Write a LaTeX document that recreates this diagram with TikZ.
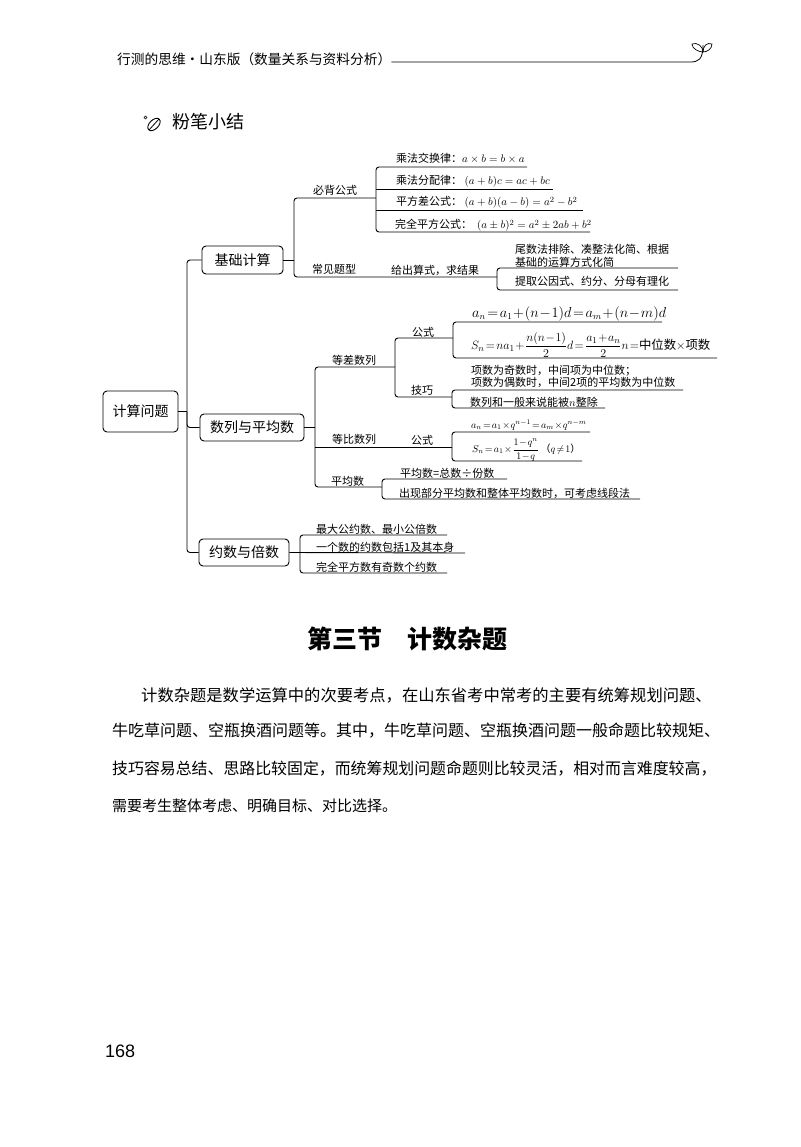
\documentclass[tikz,border=0pt]{standalone}
\usepackage{amsmath,amssymb}
\usepackage{fontspec}
\setmainfont{Noto Sans CJK SC}
\newfontfamily\numfont{Liberation Sans}
\usepackage{tikz}
\usetikzlibrary{positioning, calc}
\newcommand{\sz}[1]{\fontsize{#1}{#1}\selectfont}
\newcommand{\tightm}{\thickmuskip=2mu \medmuskip=1mu}

\begin{document}
\begin{tikzpicture}[
    x=1pt, y=-1pt,
    topic/.style={draw=black, line width=0.9pt, rounded corners=4pt, inner sep=0pt, minimum width=#1, font=\sz{14}},
    lbl/.style={anchor=base west, inner sep=0pt, font=\sz{11}},
    link/.style={draw=black, line width=0.9pt, rounded corners=3pt},
    rulel/.style={draw=black, line width=0.8pt}
]
\useasboundingbox (0,0) rectangle (800,1147);

% Page header
\node[anchor=base west, inner sep=0pt, font=\sz{13.7}] (head) at (117,65) {行测的思维·山东版（数量关系与资料分析）};
\coordinate (sprout) at (703,62);
\draw[line width=0.8pt] (head.east |- 0,62) -- (690,62) .. controls (698,62) and (703,60) .. (703,45);
\draw[line width=0.7pt] (703,52) .. controls (699,52) and (692,49) .. (692,44) .. controls (697,42) and (703,46) .. (703,52);
\draw[line width=0.7pt] (703,52) .. controls (707,52) and (712,49) .. (712,44) .. controls (707,42) and (703,46) .. (703,52);

% Summary title
\draw[line width=0.6pt] (145.5,117.5) circle (1.5);
\draw[line width=0.9pt, rotate around={45:(154,124.5)}] (154,124.5) ellipse (7.5 and 4.5);
\draw[line width=0.8pt] (149,130) -- (159,119);
\node[anchor=base west, inner sep=0pt, font=\sz{18}] (sumt) at (172,129) {粉笔小结};

% Main boxes
\node[topic=75pt, minimum height=41pt] (root) at (140.5,411.5) {计算问题};
\node[topic=81pt, minimum height=28pt] (basic) at (242.5,260) {基础计算};
\node[topic=104pt, minimum height=27pt] (seq) at (252,427.5) {数列与平均数};
\node[topic=90pt, minimum height=27pt] (factor) at (244,552.5) {约数与倍数};

\coordinate (j0) at (187,411.5);
\draw[link] (root.east) -- (j0);
\draw[link] (basic.west) -| (j0) |- (factor.west);
\draw[link] (j0) |- (seq.west);

% First branch
\coordinate (j1) at (294,260);
\coordinate (j11) at (376,198);
\coordinate (j12) at (497,277);
\draw[link] (basic.east) -- (j1);
\draw[link] (j11) -| (j1) |- (j12);

\node[lbl] (must) at (313,195) {必背公式};
\node[lbl] (f1) at (396,163) {乘法交换律：\(a\times b=b\times a\)};
\node[lbl] (f2) at (396,185) {乘法分配律：\ \((a+b)c=ac+bc\)};
\node[lbl] (f3) at (396,206) {平方差公式：\ \((a+b)(a-b)=a^2-b^2\)};
\node[lbl] (f4) at (395,229) {完全平方公式：\ \ \((a\pm b)^2=a^2\pm 2ab+b^2\)};
\coordinate (e1) at (527,167);
\coordinate (e2) at (553,189.5);
\coordinate (e3) at (583,210);
\coordinate (e4) at (590,232);
\draw[link] (e1) -| (j11) |- (e4);
\draw[rulel] (j11 |- e2) -- (e2);
\draw[rulel] (j11 |- e3) -- (e3);

\node[lbl] (common) at (312,274) {常见题型};
\node[lbl] (given) at (391,275) {给出算式，求结果};
\node[lbl, align=left, anchor=north west, font=\sz{11}, text width=170pt] (t1) at (515,244) {尾数法排除、凑整法化简、根据\\[2pt]基础的运算方式化简};
\node[lbl] (t2) at (515,286) {提取公因式、约分、分母有理化};
\coordinate (e5) at (678,268);
\coordinate (e6) at (678,290);
\draw[link] (e5) -| (j12) |- (e6);

% Second branch
\coordinate (j2) at (315,427.5);
\coordinate (j21) at (395,367);
\coordinate (j22) at (382,487);
\draw[link] (seq.east) -- (j2);
\draw[link] (j21) -| (j2) |- (j22);

\node[lbl] (arith) at (332,364) {等差数列};
\coordinate (j31) at (453,338);
\coordinate (j32) at (452,397);
\draw[link] (j31) -| (j21) |- (j32);
\node[lbl] (ar1) at (412,336) {公式};
\node[lbl] (ar2) at (411,394) {技巧};
\node[lbl, font=\sz{13.5}\tightm] (an) at (472,317) {\(a_n=a_1+(n-1)d=a_m+(n-m)d\)};
\node[lbl, anchor=west, font=\sz{12.4}\tightm] (sn) at (471,345) {\(S_n=na_1+\dfrac{n(n-1)}{2}d=\dfrac{a_1+a_n}{2}n=\)中位数\(\times\)项数};
\coordinate (e7) at (662,322);
\coordinate (e8) at (717,358);
\draw[link] (e7) -| (j31) |- (e8);
\node[lbl] (m1) at (471,374) {项数为奇数时，中间项为中位数；};
\node[lbl] (m2) at (471,386) {项数为偶数时，中间2项的平均数为中位数};
\node[lbl] (m3) at (470,406) {数列和一般来说能被\(n\)整除};
\coordinate (e9) at (683,390);
\coordinate (e10) at (605,408);
\draw[link] (e9) -| (j32) |- (e10);

\node[lbl] (geo) at (332,443) {等比数列};
\node[lbl] (geo1) at (411,444) {公式};
\coordinate (j33) at (452,447);
\draw[link] (j33) -- (j33 -| j2);
\coordinate (e11) at (590,432);
\coordinate (e12) at (582,461);
\draw[link] (e11) -| (j33) |- (e12);
\node[lbl, font=\sz{10}\tightm] (gn) at (471,428) {\(a_n=a_1\times q^{n-1}=a_m\times q^{n-m}\)};
\node[lbl, anchor=west, font=\sz{10}\tightm] (gs) at (472,450) {\(S_n=a_1\times\dfrac{1-q^n}{1-q}\)\,（\(q\neq 1\)）};

\node[lbl] (avg) at (331,485) {平均数};
\coordinate (e13) at (507,479);
\coordinate (e14) at (640,499);
\draw[link] (e13) -| (j22) |- (e14);
\node[lbl] (av1) at (400,477) {平均数=总数÷份数};
\node[lbl] (av2) at (399,497) {出现部分平均数和整体平均数时，可考虑线段法};

% Third branch
\coordinate (j4) at (300,552.5);
\coordinate (e15) at (447,535);
\coordinate (e16) at (465,553);
\coordinate (e17) at (447,573);
\draw[link] (factor.east) -- (e16);
\draw[link] (e15) -| (j4) |- (e17);
\node[lbl] (d1) at (316,533) {最大公约数、最小公倍数};
\node[lbl] (d2) at (316,551) {一个数的约数包括1及其本身};
\node[lbl] (d3) at (316,571) {完全平方数有奇数个约数};

% Section text
\node[inner sep=0pt, font=\sz{25}\bfseries] (sect) at (407,639) {第三节\hspace{1em}计数杂题};
\node[anchor=base west, inner sep=0pt, font=\sz{16.3}] (b1) at (141,701) {计数杂题是数学运算中的次要考点，在山东省考中常考的主要有统筹规划问题、};
\node[anchor=base west, inner sep=0pt, font=\sz{16}] (b2) at (112,736) {牛吃草问题、空瓶换酒问题等。其中，牛吃草问题、空瓶换酒问题一般命题比较规矩、};
\node[anchor=base west, inner sep=0pt, font=\sz{15.9}] (b3) at (112,774) {技巧容易总结、思路比较固定，而统筹规划问题命题则比较灵活，相对而言难度较高，};
\node[anchor=base west, inner sep=0pt, font=\sz{15}] (b4) at (112,811) {需要考生整体考虑、明确目标、对比选择。};

\node[anchor=base west, inner sep=0pt, font=\numfont\sz{18}] (pageno) at (105,1057) {168};
\end{tikzpicture}
\end{document}
